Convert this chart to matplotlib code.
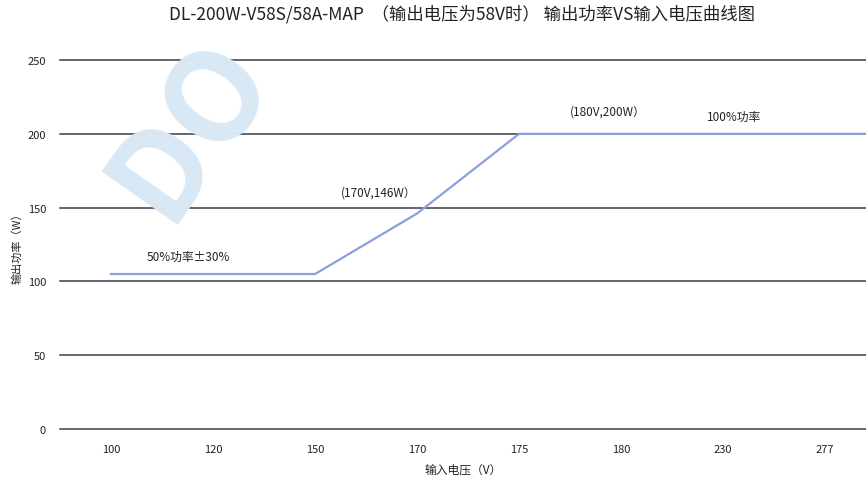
import matplotlib
matplotlib.use("Agg")
import matplotlib.pyplot as plt
import numpy as np

plt.rcParams["font.family"] = ["Noto Sans CJK SC", "DejaVu Sans"]

# data
voltages = ["100", "120", "150", "170", "175", "180", "230", "277"]
power = [105, 105, 105, 146, 200, 200, 200, 200]
yticks = [0, 50, 100, 150, 200, 250]

LINE = "#8c9fe0"
GRID = "#3b3b48"
INK = "#222222"

fig = plt.figure(figsize=(8.66, 4.81), dpi=100)
ax = fig.add_axes([60 / 866, 1 - 430 / 481, 1 - 60 / 866, (430 - 61) / 481])

# faint watermark from the scan
fig.text(190 / 866, 1 - 128 / 481, "DO", rotation=55, fontsize=90, color="#d9e8f5",
         weight="bold", ha="center", va="center", zorder=0)
ax.set_facecolor("none")

x = np.arange(len(voltages))
# 120 sits on the flat part between 100 and 150, so only the breakpoints are joined
ax.plot([x[0], x[2], x[3], x[4], x[-1] + 0.5],
        [power[0], power[2], power[3], power[4], power[-1]],
        color=LINE, lw=1.6, zorder=3, clip_on=False)

for v in yticks:
    ax.axhline(v, color=GRID, lw=1.1, zorder=2, clip_on=False)

ax.set_xlim(-0.5, 7.4)
ax.set_ylim(0, 250)
ax.set_xticks(x)
ax.set_xticklabels(voltages, fontsize=8, color=INK)
ax.set_yticks(yticks)
ax.set_yticklabels([str(v) for v in yticks], fontsize=8, color=INK)
ax.tick_params(axis="x", length=0, pad=11)
ax.tick_params(axis="y", length=0, pad=10)
for s in ax.spines.values():
    s.set_visible(False)

ax.set_xlabel("输入电压（V）", fontsize=8.5, color=INK, labelpad=6)
ax.set_ylabel("输出功率（W）", fontsize=8, color=INK, labelpad=4)

ax.annotate("(180V,200W）", (x[5], 200), textcoords="offset points",
            xytext=(-10, 14), ha="center", fontsize=8.5, color=INK)
ax.annotate("100%功率", (x[6], 200), textcoords="offset points",
            xytext=(8, 10), ha="center", fontsize=8.5, color=INK)
ax.annotate("(170V,146W）", (x[3], 146), textcoords="offset points",
            xytext=(-28, 13), ha="center", fontsize=8.5, color=INK)
ax.annotate("50%功率±30%", (x[0], 105), textcoords="offset points",
            xytext=(26, 10), ha="left", fontsize=8.5, color=INK)

fig.suptitle("DL-200W-V58S/58A-MAP  （输出电压为58V时） 输出功率VS输入电压曲线图",
             x=462 / 866, y=0.99, fontsize=12.5, color=INK)

fig.savefig("out.png", dpi=100)
